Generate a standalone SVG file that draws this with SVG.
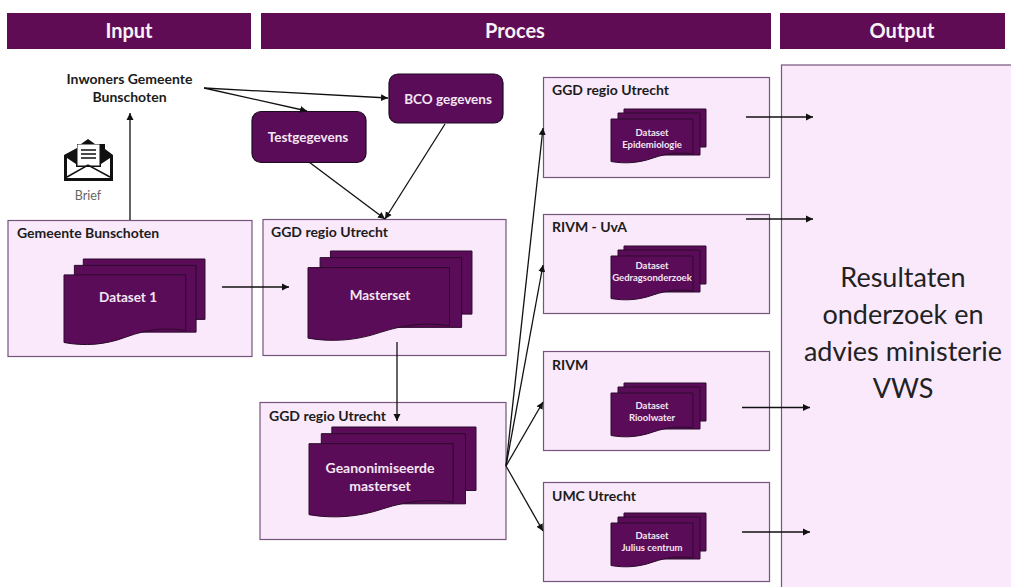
<svg xmlns="http://www.w3.org/2000/svg" width="1011" height="587" viewBox="0 0 1011 587">
<style>
text{font-family:Lato,"Open Sans","Liberation Sans",sans-serif;fill:#1c1c1c}
.hd{fill:#600c55}
.hdt{fill:#f8f2f8;font-size:20px;font-weight:700;text-anchor:middle}
.box{fill:#f9e9fb;stroke:#75557c;stroke-width:1.2}
.lab{font-size:14px;font-weight:700}
.doc{fill:#5b0c58;stroke:#2c0a2c;stroke-width:1;vector-effect:non-scaling-stroke}
.round{fill:#5b0c58;stroke:#1d0a20;stroke-width:1.2}
.wt{fill:#f3e6f3;text-anchor:middle;font-weight:700}
.s{font-size:9.5px}
.m{font-size:13.500px}
.ln{fill:none;stroke:#111;stroke-width:1.3}
.big{font-size:27px;text-anchor:middle;fill:#222}
</style>
<defs>
<marker id="ah" markerUnits="userSpaceOnUse" markerWidth="8" markerHeight="8" refX="7" refY="4" orient="auto"><path d="M0,0.5 L7,4 L0,7.5 Z" fill="#111"/></marker>
<g id="stack">
<rect class="doc" x="13" y="0" width="82" height="38"/>
<rect class="doc" x="7" y="4" width="82" height="42"/>
<path class="doc" d="M0,10 H82 V45 C68,43 57,44 42,49 C28,54 14,55 0,52.5 Z"/>
</g>
</defs>
<rect width="1011" height="587" fill="#fff"/>
<g id="header-input"><rect class="hd" x="7" y="13" width="244" height="36"/><text class="hdt" x="129" y="38">Input</text></g>
<g id="header-proces"><rect class="hd" x="261" y="13" width="510" height="36"/><text class="hdt" x="515" y="38">Proces</text></g>
<g id="header-output"><rect class="hd" x="780" y="13" width="225" height="36"/><text class="hdt" x="902" y="38">Output</text></g>

<g id="inwoners"><text class="lab" x="129.500" y="84" text-anchor="middle">Inwoners Gemeente</text><text class="lab" x="129.500" y="102" text-anchor="middle">Bunschoten</text></g>

<g id="brief">
<path d="M88,139 L95,144 H105 V149 L113,155 V181 H64 V155 L77,148 V144 H81 Z" fill="#111"/>
<rect x="77.500" y="144.500" width="22" height="21" fill="#fff"/>
<path d="M81,150 H96 M81,154 H96 M81,158 H96" stroke="#111" stroke-width="1.500"/>
<path d="M67,158 L76,164 V167 H101 V164 L110,158 V178 H67 Z" fill="#fff"/>
<path d="M67,177 L88,165 L110,177" fill="none" stroke="#111" stroke-width="1.500"/>
<text x="88" y="200" text-anchor="middle" font-size="12.500" style="fill:#666">Brief</text>
</g>

<g id="testgegevens"><rect class="round" x="252" y="111.500" width="114" height="51" rx="9"/><text class="wt m" x="308" y="142">Testgegevens</text></g>
<g id="bco"><rect class="round" x="389" y="74" width="114" height="49" rx="9"/><text class="wt m" x="448" y="104">BCO gegevens</text></g>

<g id="gemeente"><rect class="box" x="8" y="220.500" width="244" height="136"/><text class="lab" x="17" y="238">Gemeente Bunschoten</text>
<use href="#stack" transform="translate(64,259) scale(1.484,1.590)"/><text class="wt m" x="128" y="302">Dataset 1</text></g>

<g id="ggd-master"><rect class="box" x="263" y="219.500" width="243" height="136"/><text class="lab" x="271" y="237">GGD regio Utrecht</text>
<use href="#stack" transform="translate(308,251) scale(1.726,1.660)"/><text class="wt m" x="380" y="300">Masterset</text></g>

<g id="ggd-anon"><rect class="box" x="260" y="402.500" width="246" height="137"/><text class="lab" x="269" y="421">GGD regio Utrecht</text>
<use href="#stack" transform="translate(309,427) scale(1.758,1.670)"/><text class="wt m" x="380" y="473" style="font-size:14px">Geanonimiseerde</text><text class="wt m" x="380" y="491" style="font-size:14px">masterset</text></g>

<g id="ggd-epi"><rect class="box" x="543.500" y="77.500" width="226" height="100"/><text class="lab" x="552" y="95">GGD regio Utrecht</text>
<use href="#stack" transform="translate(611,109)"/><text class="wt s" x="652" y="136">Dataset</text><text class="wt s" x="652" y="148">Epidemiologie</text></g>

<g id="rivm-uva"><rect class="box" x="543.500" y="214.500" width="226" height="99"/><text class="lab" x="552" y="232">RIVM - UvA</text>
<use href="#stack" transform="translate(611,246)"/><text class="wt s" x="652" y="269">Dataset</text><text class="wt s" x="652" y="281">Gedragsonderzoek</text></g>

<g id="rivm"><rect class="box" x="543.500" y="351.500" width="226" height="99"/><text class="lab" x="552" y="370">RIVM</text>
<use href="#stack" transform="translate(611,383)"/><text class="wt s" x="652" y="409">Dataset</text><text class="wt s" x="652" y="421">Rioolwater</text></g>

<g id="umc"><rect class="box" x="543.500" y="482.500" width="226" height="99"/><text class="lab" x="552" y="501">UMC Utrecht</text>
<use href="#stack" transform="translate(611,513)"/><text class="wt s" x="652" y="539">Dataset</text><text class="wt s" x="652" y="551">Julius centrum</text></g>

<g id="resultaten"><rect class="box" x="781.500" y="65" width="232" height="525"/>
<text class="big" x="903" y="287">Resultaten</text><text class="big" x="903" y="324">onderzoek en</text><text class="big" x="903" y="361">advies ministerie</text><text class="big" x="903" y="398">VWS</text></g>

<g id="connectors">
<line class="ln" x1="130" y1="220" x2="130" y2="113" marker-end="url(#ah)"/>
<line class="ln" x1="204" y1="88" x2="307" y2="111" marker-end="url(#ah)"/>
<line class="ln" x1="204" y1="88" x2="388" y2="98" marker-end="url(#ah)"/>
<line class="ln" x1="309" y1="162" x2="385" y2="219" marker-end="url(#ah)"/>
<line class="ln" x1="445" y1="124" x2="385" y2="219" marker-end="url(#ah)"/>
<line class="ln" x1="222" y1="287" x2="289" y2="287" marker-end="url(#ah)"/>
<line class="ln" x1="397" y1="342" x2="397" y2="421" marker-end="url(#ah)"/>
<line class="ln" x1="506" y1="466" x2="543" y2="128" marker-end="url(#ah)"/>
<line class="ln" x1="506" y1="466" x2="543" y2="265" marker-end="url(#ah)"/>
<line class="ln" x1="506" y1="466" x2="543" y2="402" marker-end="url(#ah)"/>
<line class="ln" x1="506" y1="466" x2="543" y2="531" marker-end="url(#ah)"/>
<line class="ln" x1="746" y1="117" x2="813" y2="117" marker-end="url(#ah)"/>
<line class="ln" x1="746" y1="219" x2="813" y2="219" marker-end="url(#ah)"/>
<line class="ln" x1="742" y1="407.500" x2="810" y2="407.500" marker-end="url(#ah)"/>
<line class="ln" x1="742" y1="532" x2="810" y2="532" marker-end="url(#ah)"/>
</g>
</svg>
